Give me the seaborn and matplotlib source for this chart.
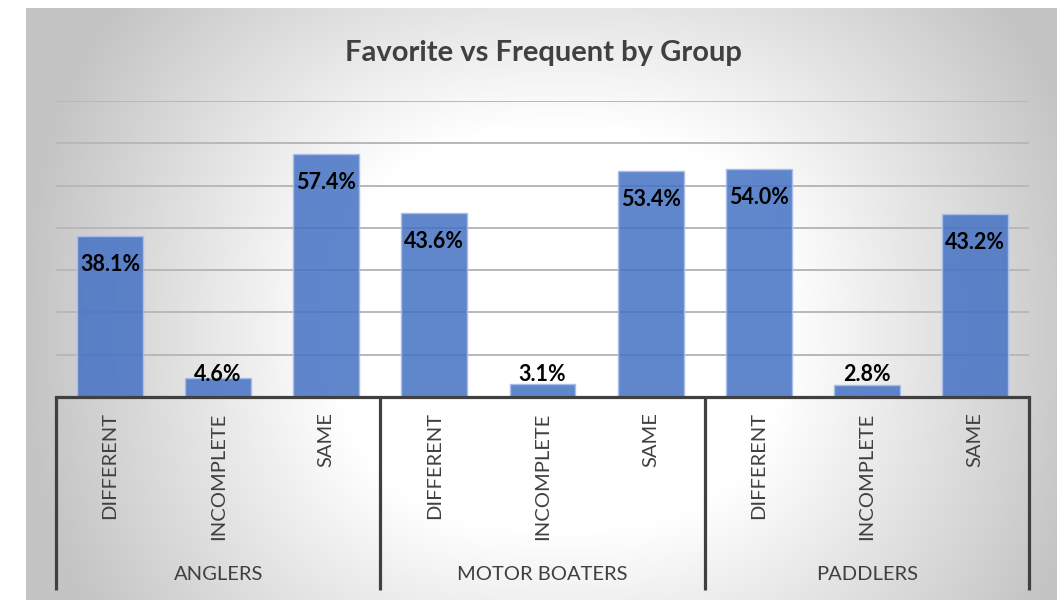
import numpy as np
import pandas as pd
import matplotlib
matplotlib.use("Agg")
import matplotlib.pyplot as plt
import matplotlib.transforms as mtransforms
from matplotlib.colors import LinearSegmentedColormap, to_rgb
import seaborn as sns

# ---- data ----
groups = ["ANGLERS", "MOTOR BOATERS", "PADDLERS"]
subcats = ["DIFFERENT", "INCOMPLETE", "SAME"]
anglers = [38.1, 4.6, 57.4]
motor_boaters = [43.6, 3.1, 53.4]
paddlers = [54.0, 2.8, 43.2]
title = "Favorite vs Frequent by Group"

values = anglers + motor_boaters + paddlers
keys = [f"{g}|{s}" for g in groups for s in subcats]
df = pd.DataFrame({"key": keys, "value": values})

sns.set_style("white")
plt.rcParams["font.family"] = ["Lato", "DejaVu Sans"]

W, H = 1057, 600
fig = plt.figure(figsize=(W / 100, H / 100), dpi=100)
fig.patch.set_facecolor("white")

# background gradient panel
bx0, by0 = 26, 8
bg = fig.add_axes([bx0 / W, 0, 1 - bx0 / W, 1 - by0 / H], zorder=-5)
xs = np.linspace(bx0, W, 500)
ys = np.linspace(by0, H, 300)
X, Y = np.meshgrid(xs, ys)
cx, cy, rx, ry = 560, 330, 535, 480
pn = 2.5
t = (np.abs((X - cx) / rx) ** pn + np.abs((Y - cy) / ry) ** pn) ** (1 / pn)
t = np.clip((t - 0.42) / 0.58, 0, 1)
cmap = LinearSegmentedColormap.from_list("bg", ["#ffffff", "#c4c4c4"])
bg.imshow(t, cmap=cmap, vmin=0, vmax=1, aspect="auto", extent=[0, 1, 0, 1],
          origin="upper", interpolation="bilinear")
bg.axis("off")

# main axes
left, right = 56 / W, 1029 / W
bottom, top = (H - 397) / H, (H - 101) / H
ax = fig.add_axes([left, bottom, right - left, top - bottom])
ax.patch.set_alpha(0)

sns.barplot(data=df, x="key", y="value", order=keys, color="#4472C4",
            saturation=1, width=0.61, ax=ax, zorder=3)
face = to_rgb("#4472C4")
for p in ax.patches:
    p.set_facecolor((*face, 0.85))
    p.set_edgecolor("#A6BEE8")
    p.set_linewidth(1.0)

ax.set_ylim(0, 70)
ax.set_xlim(-0.5, len(keys) - 0.5)
ax.set_yticks(np.arange(0, 71, 10))
ax.yaxis.grid(True, color="#b8b8b8", linewidth=1.4, zorder=0)
ax.set_axisbelow(True)
ax.tick_params(axis="y", left=False, labelleft=False)
for s in ["top", "right", "left"]:
    ax.spines[s].set_visible(False)
ax.spines["bottom"].set_color("#404040")
ax.spines["bottom"].set_linewidth(2.3)
ax.spines["bottom"].set_zorder(5)
ax.set_xlabel("")
ax.set_ylabel("")

# subcategory tick labels
ax.set_xticks(range(len(keys)))
ax.set_xticklabels([k.split("|")[1] for k in keys], rotation=90,
                   fontsize=14.5, color="#404040", va="top")
ax.tick_params(axis="x", bottom=False, length=0, pad=11)

# value labels
px_per_unit = (397 - 101) / 70.0
for i, v in enumerate(values):
    if v < 10:
        ax.text(i, (397 - 381) / px_per_unit, f"{v:.1f}%", ha="center",
                va="baseline", fontsize=15.5, fontweight="bold",
                color="black", zorder=6)
    else:
        ax.text(i, v - 35 / px_per_unit, f"{v:.1f}%", ha="center",
                va="baseline", fontsize=15.5, fontweight="bold",
                color="black", zorder=6)

# group separators and labels
trans = mtransforms.blended_transform_factory(ax.transData, ax.transAxes)
ax_h_px = 397 - 101
y_bot = -(590 - 397) / ax_h_px
for xb in [-0.5, 2.5, 5.5, 8.5]:
    ax.plot([xb, xb], [0, y_bot], transform=trans, color="#404040",
            linewidth=2.3, clip_on=False, zorder=5, solid_capstyle="butt")
y_grp = -(575 - 397) / ax_h_px
for gi, g in enumerate(groups):
    ax.text(gi * 3 + 1, y_grp, g, transform=trans, ha="center", va="center",
            fontsize=14.5, color="#404040")

fig.text(543 / W, 1 - 53 / H, title, ha="center", va="center",
         fontsize=21, fontweight="bold", color="#404040")

fig.savefig("out.png", dpi=100)
